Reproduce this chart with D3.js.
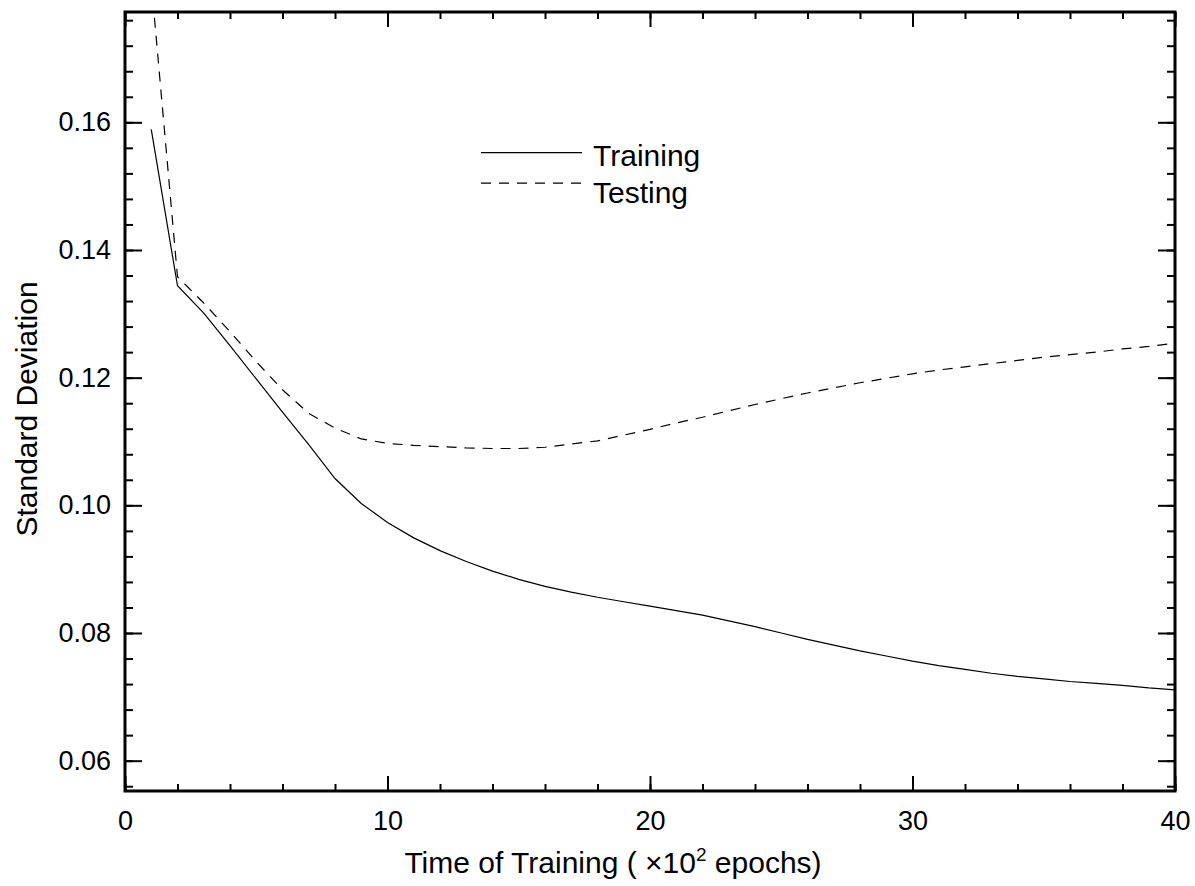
<!DOCTYPE html>
<html>
<meta charset="utf-8">
<style>
    body { margin: 0; background: #fff; }
    svg { display: block; background: #fff; }
    text { font-family: 'Liberation Sans', Arial, sans-serif; fill: #000; }
    .tick line { stroke: #000; stroke-width: 2; }
    .tick text { font-size: 27px; }
</style>
<body>
  <svg width="1195" height="886"></svg>

  <script src="https://d3js.org/d3.v7.min.js"></script>
  <script>
    // values (x in 10^2 epochs)
    let epochs = d3.range(1, 41);
    let training = [0.1589, 0.1344, 0.1301, 0.1250, 0.1198, 0.1146, 0.1095, 0.1042, 0.1003, 0.0973,
                    0.0949, 0.0929, 0.0912, 0.0897, 0.0884, 0.0873, 0.0864, 0.0856, 0.0849, 0.0842,
                    0.0835, 0.0828, 0.0819, 0.0810, 0.0800, 0.0790, 0.0781, 0.0772, 0.0764, 0.0756,
                    0.0749, 0.0743, 0.0737, 0.0732, 0.0728, 0.0724, 0.0721, 0.0718, 0.0714, 0.0711];
    let testing = [0.1820, 0.1358, 0.1317, 0.1272, 0.1225, 0.1181, 0.1144, 0.1121, 0.1104, 0.1097,
                   0.1094, 0.1092, 0.1090, 0.1089, 0.1089, 0.1091, 0.1096, 0.1101, 0.1110, 0.1119,
                   0.1129, 0.1138, 0.1148, 0.1158, 0.1167, 0.1176, 0.1184, 0.1192, 0.1199, 0.1206,
                   0.1212, 0.1217, 0.1222, 0.1227, 0.1232, 0.1236, 0.1240, 0.1245, 0.1249, 0.1254];

    let xMajor = [0, 10, 20, 30, 40];
    let xMinor = d3.range(0, 41, 2);
    let yMajor = [0.06, 0.08, 0.10, 0.12, 0.14, 0.16];
    let yMinor = d3.range(14, 45).map(d => d * 0.004);

    let seriesNames = ["Training", "Testing"];

    let margin = {top: 12, right: 20, bottom: 95, left: 125},
        width = 1195 - margin.left - margin.right,
        height = 886 - margin.top - margin.bottom;

    let svg = d3.select("svg")
      .append("g")
      .attr("transform", "translate(" + margin.left + "," + margin.top + ")");

    let xScale = d3.scaleLinear().domain([0, 40]).range([0, width]);
    let yScale = d3.scaleLinear().domain([0.05525, 0.17728]).range([height, 0]);

    // ticks, all pointing inward
    function addAxis(axis, transform) {
      let g = svg.append("g").attr("transform", transform).call(axis);
      g.select(".domain").remove();
      return g;
    }

    addAxis(d3.axisBottom(xScale).tickValues(xMinor).tickSize(-7).tickSizeOuter(0).tickFormat(""), "translate(0," + height + ")");
    addAxis(d3.axisBottom(xScale).tickValues(xMajor).tickSize(-15).tickSizeOuter(0).tickPadding(20).tickFormat(d3.format("d")), "translate(0," + height + ")");
    addAxis(d3.axisTop(xScale).tickValues(xMinor).tickSize(-7).tickSizeOuter(0).tickFormat(""), "translate(0,0)");
    addAxis(d3.axisTop(xScale).tickValues(xMajor).tickSize(-15).tickSizeOuter(0).tickFormat(""), "translate(0,0)");

    addAxis(d3.axisLeft(yScale).tickValues(yMinor).tickSize(-8).tickSizeOuter(0).tickFormat(""), "translate(0,0)");
    addAxis(d3.axisLeft(yScale).tickValues(yMajor).tickSize(-17).tickSizeOuter(0).tickPadding(14).tickFormat(d3.format(".2f")), "translate(0,0)");
    addAxis(d3.axisRight(yScale).tickValues(yMinor).tickSize(-8).tickSizeOuter(0).tickFormat(""), "translate(" + width + ",0)");
    addAxis(d3.axisRight(yScale).tickValues(yMajor).tickSize(-17).tickSizeOuter(0).tickFormat(""), "translate(" + width + ",0)");

    // clip the lines to the frame
    svg.append("clipPath").attr("id", "plotClip")
      .append("rect").attr("width", width).attr("height", height);

    let lineGenerator = d3.line()
      .x((d, i) => xScale(epochs[i]))
      .y(d => yScale(d));

    let lines = svg.append("g").attr("clip-path", "url(#plotClip)");
    lines.append("path")
      .attr("d", lineGenerator(training))
      .style("fill", "none").style("stroke", "#000").style("stroke-width", 1.2);
    lines.append("path")
      .attr("d", lineGenerator(testing))
      .style("fill", "none").style("stroke", "#000").style("stroke-width", 1.2)
      .style("stroke-dasharray", "10,8");

    // frame
    svg.append("rect")
      .attr("width", width).attr("height", height)
      .style("fill", "none").style("stroke", "#000").style("stroke-width", 3);

    // legend
    let legend = svg.append("g").attr("transform", "translate(" + (481 - margin.left) + "," + (152.7 - margin.top) + ")");
    seriesNames.forEach(function(name, i) {
      let yOff = i * 30.5;
      legend.append("line")
        .attr("x1", 0).attr("x2", 101).attr("y1", yOff).attr("y2", yOff)
        .style("stroke", "#000").style("stroke-width", 1.2)
        .style("stroke-dasharray", i == 1 ? "10,8" : null);
      legend.append("text")
        .attr("x", 112).attr("y", yOff + 13 + i * 7)
        .style("font-size", "30px")
        .text(name);
    });

    // axis titles
    let xTitle = svg.append("text")
      .attr("x", width / 2 - 37).attr("y", 873 - margin.top)
      .attr("text-anchor", "middle")
      .style("font-size", "30px");
    xTitle.append("tspan").text("Time of Training ( \u00d710");
    xTitle.append("tspan").attr("dy", -12).style("font-size", "19px").text("2");
    xTitle.append("tspan").attr("dy", 12).text(" epochs)");

    svg.append("text")
      .attr("transform", "translate(" + (37 - margin.left) + "," + (409 - margin.top) + ") rotate(-90)")
      .attr("text-anchor", "middle")
      .style("font-size", "30px")
      .text("Standard Deviation");
  </script>
</body>
</html>
